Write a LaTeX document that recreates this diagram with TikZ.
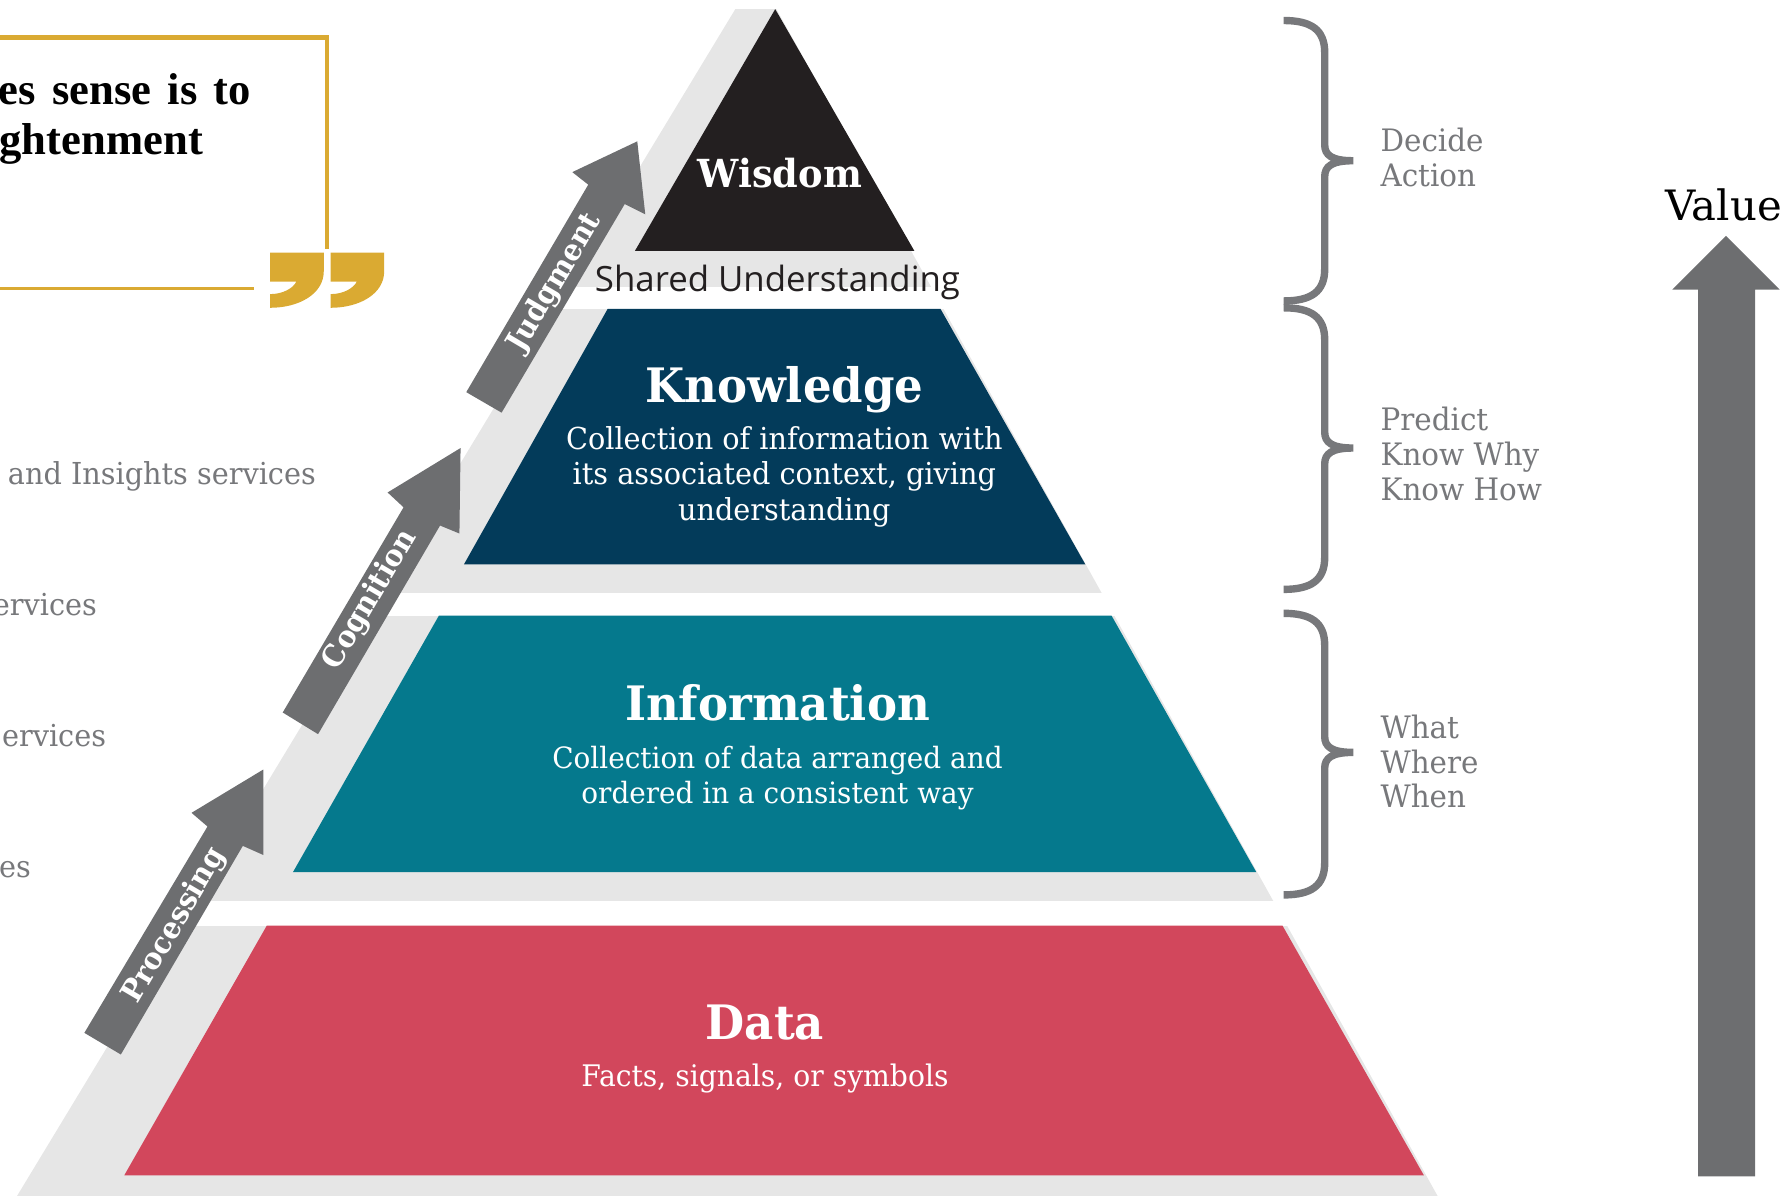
\documentclass[tikz,border=0pt]{standalone}
\usepackage{fontspec}
\usepackage{xcolor}
\usepackage{tikz}
\usetikzlibrary{positioning}

\newfontfamily\slabfont[FakeStretch=0.95]{DejaVu Serif}
\newfontfamily\valuefont{DejaVu Serif}
\newfontfamily\quotefont[WordSpace=1.45]{Liberation Serif}
\newfontfamily\sharedfont{Open Sans}

\definecolor{wisdomcol}{HTML}{231F20}
\definecolor{knowledgecol}{HTML}{033B5A}
\definecolor{infocol}{HTML}{05798D}
\definecolor{datacol}{HTML}{D2475C}
\definecolor{backcol}{HTML}{E6E6E6}
\definecolor{arrowcol}{HTML}{6D6E70}
\definecolor{textcol}{HTML}{77787B}
\definecolor{quotecol}{HTML}{DAAA32}

\newcommand{\curlybrace}[3]{%
  \draw[bracket] (1126,#1) .. controls (1150,#1) and (1162,#1+8) .. (1162,#1+28)
    -- (1162,#2-14) .. controls (1162,#2-5) and (1168,#2) .. (1187,#2)
    .. controls (1168,#2) and (1162,#2+5) .. (1162,#2+14)
    -- (1162,#3-28) .. controls (1162,#3-8) and (1150,#3) .. (1126,#3);}

\begin{document}
\begin{tikzpicture}[x=0.0114cm, y=-0.0114cm,
    every node/.style={inner sep=0pt, outer sep=0pt},
    heading/.style={text=white, text height=10pt, text depth=3pt, font=\slabfont\bfseries\fontsize{13.5}{15}\selectfont},
    descr/.style={text=white, align=center, font=\slabfont\fontsize{8.6}{10}\selectfont},
    steplabel/.style={text=white, font=\slabfont\bfseries\fontsize{8.5}{10}\selectfont, rotate=59.5},
    sidetext/.style={text=textcol, align=left, font=\slabfont\fontsize{8.8}{9.9}\selectfont},
    listtext/.style={text=textcol, anchor=east, text height=6pt, text depth=2pt, font=\slabfont\fontsize{8.6}{10}\selectfont},
    quotetext/.style={anchor=east, text height=9pt, text depth=3pt, font=\quotefont\bfseries\fontsize{12.7}{15}\selectfont},
    bracket/.style={draw=textcol, line width=2.1pt}]

\useasboundingbox (0,0) rectangle (1568.4,1049.1);

% Back of the pyramid
\fill[backcol] (645,8) -- (681,8) -- (1261,1049) -- (15,1049) -- cycle;
\fill[white] (0,790) rectangle (1300,812);
\fill[white] (0,520) rectangle (1300,540);
\fill[white] (490,252) rectangle (900,271);

% Layers
\fill[wisdomcol] (680,8) -- (802,220) -- (557,220) -- cycle;
\fill[knowledgecol] (533,271) -- (825,271) -- (952,495) -- (407,495) -- cycle;
\fill[infocol] (385,540) -- (975,540) -- (1102,765) -- (257,765) -- cycle;
\fill[datacol] (234,812) -- (1125,812) -- (1249,1031) -- (109,1031) -- cycle;

% Layer texts
\node (wisdom) [heading, font=\slabfont\bfseries\fontsize{11}{13}\selectfont] at (684,154) {Wisdom};
\node (shared) [text=wisdomcol, font=\sharedfont\fontsize{9.9}{12}\selectfont] at (682,248) {Shared Understanding};
\node (knowledge) [heading] at (688,342) {Knowledge};
\node (knowledgetext) [descr, below=0.14cm of knowledge] {Collection of information with\\its associated context, giving\\understanding};
\node (information) [heading] at (682,621) {Information};
\node (informationtext) [descr, font=\slabfont\fontsize{8.35}{10}\selectfont, below=0.15cm of information] {Collection of data arranged and\\ordered in a consistent way};
\node (data) [heading] at (671,901) {Data};
\node (datatext) [descr, font=\slabfont\fontsize{8.45}{10}\selectfont, below=0.14cm of data] {Facts, signals, or symbols};

% Slanted arrows
\fill[arrowcol] (74,906) -- (182,725) -- (168,713) -- (231,675) -- (231,750) -- (213,742) -- (106,925) -- cycle;
\fill[arrowcol] (248,625) -- (354,445) -- (340,432) -- (404,393) -- (403,468) -- (386,461) -- (279,644) -- cycle;
\fill[arrowcol] (409,344) -- (516,162) -- (502,151) -- (559,124) -- (566,188) -- (548,179) -- (440,362) -- cycle;
\node (processing) [steplabel] at (153,812) {Processing};
\node (cognition) [steplabel] at (325,526) {Cognition};
\node (judgment) [steplabel] at (487,248) {Judgment};

% Braces
\curlybrace{18}{141}{264}
\curlybrace{270}{393}{517}
\curlybrace{538}{660}{785}
\node (decide) [sidetext, anchor=west] at (1211,138) {Decide\\Action};
\node (predict) [sidetext, anchor=west] at (1211,398) {Predict\\Know Why\\Know How};
\node (what) [sidetext, anchor=west] at (1211,668) {What\\Where\\When};

% Value arrow
\fill[arrowcol] (1489.5,1032) -- (1489.5,254) -- (1467,254) -- (1514,207) -- (1561,254) -- (1539.5,254) -- (1539.5,1032) -- cycle;
\node (value) [font=\valuefont\fontsize{11.9}{13}\selectfont] at (1512,180) {Value};

% Quote frame
\draw[quotecol, line width=1.3pt] (0,33) -- (287,33) -- (287,218);
\draw[quotecol, line width=0.9pt] (0,253) -- (223,253);
\foreach \dx in {0,53}
  \fill[quotecol, xshift=\dx*0.0114cm] (237,221.5) -- (284,221.5) -- (284,238)
    .. controls (284,258) and (262,270) .. (237,270) -- (237,258)
    .. controls (248,258) and (257,253) .. (260,247) -- (237,247) -- cycle;
\node (quoteone) [quotetext] at (220,82) {es sense is to};
\node (quotetwo) [quotetext] at (178,126) {ightenment};

% Cut off list
\node (listone) [listtext] at (277,419) {e and Insights services};
\node (listtwo) [listtext] at (85,534) {ervices};
\node (listthree) [listtext] at (93,649) {ervices};
\node (listfour) [listtext] at (27,764) {es};

\end{tikzpicture}
\end{document}
